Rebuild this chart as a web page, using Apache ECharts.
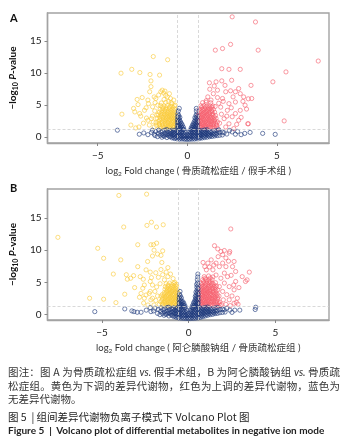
<!DOCTYPE html>
<html>
<head>
<meta charset="utf-8">
<script src="https://cdn.jsdelivr.net/npm/echarts@6/dist/echarts.min.js"></script>
<style>
html,body{margin:0;padding:0;background:#fff;}
#app{position:relative;width:349px;height:448px;overflow:hidden;}
#chart{position:absolute;left:0;top:0;width:349px;height:448px;}
.cap{position:absolute;left:8px;top:365px;width:332px;font-family:"Noto Sans CJK SC",sans-serif;font-size:10.5px;color:#333;}
.cap div{line-height:13.5px;height:13.5px;white-space:nowrap;}
.cap .j{text-align:justify;text-align-last:justify;}
.cap i{font-family:Lato,"Noto Sans CJK SC";}
.cap .t4{margin-top:4.5px;color:#222;}
.cap .t5{font-family:Lato,sans-serif;font-weight:bold;font-size:10px;color:#222;}
</style>
</head>
<body>
<div id="app">
  <div id="chart"></div>
  <div class="cap">
    <div class="j">图注：图 A 为骨质疏松症组 <i>vs.</i> 假手术组，B 为阿仑膦酸钠组 <i>vs.</i> 骨质疏</div>
    <div class="j">松症组。黄色为下调的差异代谢物，红色为上调的差异代谢物，蓝色为</div>
    <div>无差异代谢物。</div>
    <div class="t4">图 5 &nbsp;|&nbsp;组间差异代谢物负离子模式下 Volcano Plot 图</div>
    <div class="t5">Figure 5 &nbsp;| &nbsp;Volcano plot of differential metabolites in negative ion mode</div>
  </div>
</div>
<script>
// 阈值: log2(1.5), -log10(0.05)
var fcCut = 0.58;
var pCut = 1.3;
var xTicks = [-5, 0, 5];
var yTicks = [0, 5, 10, 15];

// 图A 骨质疏松症组 / 假手术组  [log2FC, -log10P]
var aDown = [
  [-3.7,10.0],[-3.65,3.6],[-3.1,10.6],[-2.65,10.1],[-2.88,1.45],[-1.9,12.6],[-1.1,12.1],
  [-2.08,9.8],[-1.55,9.7],[-2.03,8.8],[-2.03,7.9],[-2.1,7.1],[-2.52,6.2],[-2.8,5.9],
  [-2.75,5.1],[-3.0,4.5],[-2.93,3.95],[-2.66,3.7],[-2.39,4.2],[-2.2,5.8],[-1.85,6.3],
  [-1.4,7.35],[-0.76,5.8],[-0.67,5.0],[-2.2,2.65],[-2.12,1.9],[-2.17,5.25],[-1.94,4.75],
  [-1.76,6.05],[-1.7,3.45],[-1.85,1.6],[-1.58,1.9],[-1.48,7.1],[-1.21,6.55],[-1.12,6.3],
  [-0.94,6.05],[-2.6,3.3],[-2.45,2.2],[-2.28,3.0],[-1.9,2.4],[-1.8,5.4],[-1.65,5.0],
  [-1.6,6.6],[-1.32,6.9],[-1.3,5.9],[-1.05,5.6],[-0.85,5.2],[-2.3,4.6],[-3.15,1.9],[-2.7,1.6],
  [-1.95,3.3],[-1.82,4.1],[-2.0,2.9],[-1.75,2.3],[-1.25,7.2],[-1.0,6.8],
  [-0.62,1.42],[-0.75,1.5],[-0.88,1.4],[-1.0,1.47],[-1.15,1.38],[-1.3,1.52],[-1.48,1.44],
  [-0.65,1.92],[-0.8,1.86],[-0.93,1.95],[-1.08,1.88],[-1.22,1.96],[-1.38,1.9],[-1.55,2.0],[-1.72,1.85],
  [-0.63,2.38],[-0.74,2.45],[-0.86,2.36],[-1.0,2.42],[-1.12,2.35],[-1.27,2.47],[-1.42,2.4],[-1.6,2.5],
  [-0.66,2.92],[-0.78,2.86],[-0.9,2.95],[-1.04,2.88],[-1.18,2.94],[-1.33,2.85],[-1.5,2.92],[-1.68,2.98],
  [-0.64,3.38],[-0.76,3.45],[-0.89,3.36],[-1.01,3.42],[-1.14,3.35],[-1.28,3.46],[-1.45,3.4],[-1.62,3.5],
  [-0.68,3.9],[-0.82,3.86],[-0.96,3.95],[-1.1,3.88],[-1.25,3.94],[-1.4,3.85],[-1.56,3.92],
  [-0.7,4.4],[-0.85,4.36],[-1.0,4.45],[-1.17,4.38],[-1.35,4.46],[-1.52,4.35],
  [-0.72,4.9],[-0.92,4.85],[-1.12,4.94],[-1.3,4.88],[-1.5,4.95],
  [-0.9,5.4],[-1.2,5.45],[-1.45,5.35],
  [-0.69,1.66],[-0.82,1.62],[-0.95,1.7],[-1.08,1.64],[-1.22,1.68],[-1.36,1.62],[-1.52,1.7],
  [-0.7,2.14],[-0.84,2.2],[-0.97,2.12],[-1.1,2.18],[-1.25,2.14],[-1.4,2.2],[-1.58,2.16],
  [-0.68,2.66],[-0.81,2.62],[-0.94,2.7],[-1.07,2.64],[-1.21,2.68],[-1.37,2.62],[-1.54,2.7],
  [-0.71,3.16],[-0.84,3.12],[-0.97,3.2],[-1.09,3.14],[-1.23,3.18],[-1.38,3.12],[-1.55,3.2],
  [-0.72,3.66],[-0.86,3.62],[-1.0,3.7],[-1.15,3.64],[-1.3,3.68],[-1.47,3.64],
  [-0.76,4.15],[-0.92,4.2],[-1.08,4.12],[-1.25,4.18],[-1.42,4.14],
  [-0.8,4.65],[-1.0,4.68],[-1.2,4.62],[-1.4,4.7]
];
var aUp = [
  [2.5,18.8],[3.8,18.0],[1.56,13.6],[1.96,13.85],[2.41,14.5],[3.95,13.6],[1.92,10.7],[2.32,10.6],[2.95,10.6],
  [7.3,11.9],[5.5,10.2],[4.77,8.65],[3.55,8.1],[5.4,2.55],[3.37,2.1],[3.4,6.0],
  [1.23,8.5],[1.6,8.65],[1.5,8.0],[1.68,7.35],[1.92,8.8],[2.47,8.9],[2.14,7.1],[2.41,7.25],[2.68,7.1],[2.95,6.8],[2.86,7.6],
  [3.59,6.05],[3.22,5.0],[2.95,4.2],[2.68,3.7],[2.5,3.2],[3.4,2.1],[2.86,2.65],[2.32,2.1],[2.05,2.9],[2.23,4.2],
  [1.86,4.7],[1.96,6.05],[1.68,6.2],[1.45,6.8],[1.32,5.8],[1.14,6.3],[2.68,5.5],[3.14,6.3],[2.32,5.25],[2.14,1.6],[2.59,1.35],
  [1.75,5.3],[1.9,3.6],[2.0,5.6],[2.2,3.3],[2.45,4.6],[2.75,2.0],[3.0,3.1],[3.1,5.6],[1.8,2.2],[2.55,6.3],[1.55,4.8],
  [1.25,7.5],[1.05,5.7],[3.3,4.4],[2.1,8.1],
  [0.62,1.42],[0.74,1.5],[0.86,1.38],[0.98,1.46],[1.1,1.4],[1.24,1.52],[1.38,1.44],[1.52,1.48],[1.7,1.4],
  [0.64,1.92],[0.77,1.86],[0.9,1.95],[1.03,1.88],[1.17,1.96],[1.31,1.9],[1.46,1.98],[1.62,1.87],
  [0.6,2.4],[0.72,2.46],[0.84,2.36],[0.97,2.44],[1.1,2.37],[1.23,2.46],[1.37,2.4],[1.52,2.48],[1.68,2.38],
  [0.63,2.9],[0.76,2.96],[0.89,2.86],[1.02,2.94],[1.15,2.88],[1.29,2.95],[1.44,2.87],[1.6,2.93],
  [0.61,3.4],[0.73,3.36],[0.86,3.45],[0.99,3.38],[1.12,3.44],[1.26,3.36],[1.41,3.46],[1.57,3.4],
  [0.66,3.9],[0.8,3.95],[0.94,3.86],[1.08,3.93],[1.22,3.88],[1.37,3.96],[1.52,3.9],
  [0.68,4.4],[0.83,4.36],[0.98,4.45],[1.13,4.38],[1.28,4.44],[1.45,4.36],
  [0.75,4.9],[0.92,4.95],[1.08,4.86],[1.25,4.93],[1.42,4.88],
  [0.85,5.4],[1.05,5.46],[1.3,5.38],
  [0.69,1.66],[0.81,1.62],[0.93,1.7],[1.05,1.64],[1.18,1.68],[1.32,1.62],[1.46,1.7],[1.62,1.64],
  [0.66,2.16],[0.79,2.12],[0.92,2.2],[1.05,2.14],[1.18,2.18],[1.32,2.12],[1.46,2.2],[1.6,2.15],
  [0.7,2.66],[0.82,2.62],[0.95,2.7],[1.08,2.64],[1.22,2.68],[1.36,2.62],[1.52,2.7],
  [0.67,3.16],[0.8,3.12],[0.93,3.2],[1.06,3.14],[1.19,3.18],[1.34,3.12],[1.5,3.18],
  [0.7,3.66],[0.84,3.62],[0.97,3.7],[1.11,3.64],[1.25,3.68],[1.41,3.64],
  [0.74,4.15],[0.9,4.2],[1.05,4.12],[1.2,4.18],[1.36,4.14],
  [0.8,4.65],[1.0,4.68],[1.18,4.62],[1.35,4.7]
];
var aNs = [
  [-3.9,1.1],[-2.68,0.47],[-2.43,0.67],[-2.2,0.4],[-2.0,0.75],[-1.85,0.47],[-1.95,1.1],
  [1.96,0.8],[2.2,0.5],[2.5,0.83],[2.68,0.47],[3.0,0.4],[3.2,0.6],[3.5,0.75],[4.2,0.6],[4.9,0.45],[2.35,1.05],[2.8,0.9],[1.75,1.15],
  [-1.8,0.25],[-1.76,0.9],[-1.66,0.1],[-1.62,0.6],[-1.6,1.1],[-1.52,0.3],[-1.48,0.8],
  [-1.42,0.0],[-1.4,0.45],[-1.38,0.95],[-1.28,0.15],[-1.26,0.6],[-1.25,1.1],
  [-1.14,-0.05],[-1.13,0.4],[-1.12,0.8],[-1.15,1.2],[-1.0,0.1],[-1.0,0.55],[-0.99,0.95],
  [-0.86,-0.1],[-0.86,0.3],[-0.85,0.7],[-0.87,1.1],[-0.72,-0.2],[-0.72,0.2],[-0.71,0.6],[-0.72,1.0],
  [-0.58,-0.25],[-0.58,0.15],[-0.57,0.55],[-0.58,0.95],[-0.44,-0.3],[-0.44,0.1],[-0.43,0.5],[-0.44,0.9],
  [-0.3,-0.28],[-0.3,0.12],[-0.29,0.5],[-0.3,0.85],[-0.16,-0.32],[-0.16,0.08],[-0.15,0.45],
  [-0.02,-0.35],[-0.02,0.05],[-0.01,0.4],[0.12,-0.33],[0.12,0.07],[0.13,0.45],
  [0.26,-0.3],[0.26,0.1],[0.27,0.5],[0.26,0.85],[0.4,-0.28],[0.4,0.12],[0.41,0.52],[0.4,0.9],
  [0.54,-0.25],[0.54,0.15],[0.55,0.55],[0.54,0.95],[0.68,-0.2],[0.68,0.2],[0.69,0.6],[0.68,1.0],
  [0.82,-0.12],[0.82,0.28],[0.83,0.68],[0.82,1.08],[0.96,-0.05],[0.96,0.35],[0.97,0.75],[0.96,1.15],
  [1.1,0.0],[1.1,0.4],[1.11,0.8],[1.1,1.18],[1.24,0.08],[1.24,0.48],[1.25,0.88],
  [1.38,0.12],[1.38,0.52],[1.39,0.92],[1.52,0.2],[1.52,0.6],[1.53,1.0],
  [1.66,0.25],[1.66,0.65],[1.67,1.05],[1.8,0.3],[1.8,0.75],[1.95,0.35],[2.05,0.7],
  [-0.55,1.4],[-0.55,1.85],[-0.55,2.3],[-0.55,2.75],[-0.54,3.2],[-0.53,3.65],[-0.5,4.1],[-0.45,4.5],
  [-0.45,1.3],[-0.45,1.75],[-0.44,2.2],[-0.43,2.65],[-0.42,3.1],[-0.35,1.25],[-0.34,1.7],[-0.33,2.15],
  [-0.24,1.2],[-0.22,1.55],[-0.12,0.8],[0.08,0.85],
  [0.55,1.4],[0.55,1.85],[0.55,2.3],[0.55,2.75],[0.54,3.2],[0.53,3.65],[0.5,4.1],[0.5,4.5],
  [0.45,1.3],[0.45,1.75],[0.44,2.2],[0.43,2.65],[0.42,3.05],[0.35,1.25],[0.34,1.7],[0.33,2.1],
  [0.24,1.2],[0.22,1.5],[0.16,0.85],
  [-1.35,0.25],[-1.21,0.4],[-1.07,0.3],[-0.93,0.15],[-0.93,0.55],[-0.93,0.9],[-0.79,0.0],[-0.79,0.4],[-0.79,0.8],
  [-0.65,-0.05],[-0.65,0.35],[-0.65,0.75],[-0.65,1.15],[-0.51,-0.1],[-0.51,0.3],[-0.51,0.7],[-0.51,1.1],
  [-0.37,-0.12],[-0.37,0.3],[-0.37,0.7],[-0.23,-0.15],[-0.23,0.25],[-0.23,0.65],[-0.09,-0.18],[-0.09,0.22],
  [0.05,-0.18],[0.05,0.2],[0.19,-0.15],[0.19,0.25],[0.19,0.65],[0.33,-0.12],[0.33,0.3],[0.33,0.7],
  [0.47,-0.1],[0.47,0.3],[0.47,0.7],[0.47,1.1],[0.61,-0.05],[0.61,0.35],[0.61,0.75],[0.61,1.15],
  [0.75,0.0],[0.75,0.4],[0.75,0.8],[0.89,0.1],[0.89,0.5],[0.89,0.9],[1.03,0.2],[1.03,0.6],[1.03,0.98],
  [1.17,0.25],[1.17,0.62],[1.31,0.3],[1.31,0.72],[1.45,0.38],[1.6,0.45],
  [-0.5,1.6],[-0.5,2.05],[-0.49,2.5],[-0.48,2.95],[-0.48,3.4],[-0.4,1.5],[-0.39,1.95],[-0.38,2.4],[-0.29,1.45],[-0.28,1.9],[-0.19,1.2],
  [0.5,1.6],[0.5,2.05],[0.49,2.5],[0.48,2.95],[0.48,3.4],[0.4,1.5],[0.39,1.95],[0.38,2.4],[0.29,1.45],[0.28,1.85],[0.19,1.2]
];

// 图B 阿仑膦酸钠组 / 骨质疏松症组
var bDown = [
  [-7.55,12.0],[-4.03,18.5],[-2.43,18.7],[-3.75,13.6],[-5.25,10.3],[-4.91,8.75],[-3.92,8.5],[-2.41,13.85],
  [-2.15,14.35],[-1.86,13.6],[-1.47,13.95],[-2.94,10.85],[-2.18,10.85],[-2.03,10.85],[-1.85,11.1],[-2.09,9.1],
  [-2.37,8.25],[-1.6,9.2],[-1.5,9.9],[-1.8,9.4],[-2.0,10.0],
  [-4.35,6.3],[-3.6,6.2],[-3.54,5.5],[-3.35,5.65],[-3.18,6.05],[-2.94,7.45],[-2.8,5.9],[-2.62,5.5],[-2.56,4.6],
  [-2.65,4.1],[-2.75,3.3],[-2.46,3.05],[-2.56,2.55],[-2.84,2.7],[-3.12,4.2],[-3.69,3.17],[-4.2,1.87],[-4.91,2.4],[-5.72,2.55],
  [-2.46,6.95],[-2.22,6.6],[-2.15,5.75],[-2.22,5.15],[-2.09,4.6],[-2.22,3.6],[-2.09,2.55],[-2.18,2.3],[-2.28,3.3],
  [-1.9,6.5],[-1.75,5.8],[-1.6,7.0],[-1.5,6.2],[-1.4,5.4],[-1.3,6.6],[-1.2,5.9],[-1.05,6.3],[-0.9,5.6],[-0.8,5.0],
  [-0.7,4.7],[-1.65,4.8],[-1.85,4.3],[-1.95,3.6],[-1.8,2.9],[-1.9,2.2],[-1.7,1.6],[-2.0,1.5],[-1.55,8.1],[-1.2,7.3],
  [-2.6,1.8],[-2.35,1.5],
  [-0.62,1.44],[-0.74,1.38],[-0.86,1.5],[-0.98,1.42],[-1.1,1.48],[-1.24,1.4],[-1.38,1.5],[-1.52,1.45],
  [-0.64,1.9],[-0.77,1.96],[-0.9,1.86],[-1.03,1.94],[-1.17,1.88],[-1.31,1.96],[-1.46,1.9],[-1.62,1.98],
  [-0.6,2.4],[-0.72,2.35],[-0.84,2.46],[-0.97,2.38],[-1.1,2.44],[-1.23,2.36],[-1.37,2.45],[-1.52,2.4],
  [-0.63,2.9],[-0.76,2.86],[-0.89,2.95],[-1.02,2.88],[-1.15,2.94],[-1.29,2.86],[-1.44,2.92],[-1.6,2.88],
  [-0.61,3.38],[-0.73,3.45],[-0.86,3.36],[-0.99,3.44],[-1.12,3.38],[-1.26,3.46],[-1.41,3.4],
  [-0.66,3.88],[-0.8,3.94],[-0.94,3.86],[-1.08,3.92],[-1.22,3.86],[-1.37,3.94],
  [-0.7,4.38],[-0.86,4.44],[-1.02,4.36],[-1.18,4.42],[-1.35,4.35],
  [-0.85,4.85],[-1.1,4.9],[-1.3,4.8],
  [-0.68,1.64],[-0.8,1.7],[-0.93,1.62],[-1.06,1.68],[-1.2,1.64],[-1.34,1.7],[-1.5,1.66],
  [-0.7,2.16],[-0.83,2.12],[-0.96,2.2],[-1.09,2.14],[-1.23,2.18],[-1.38,2.12],[-1.55,2.18],
  [-0.67,2.66],[-0.8,2.7],[-0.93,2.62],[-1.06,2.68],[-1.2,2.64],[-1.35,2.7],[-1.5,2.64],
  [-0.69,3.14],[-0.82,3.18],[-0.95,3.12],[-1.08,3.2],[-1.22,3.14],[-1.37,3.18],[-1.52,3.12],
  [-0.7,3.64],[-0.84,3.68],[-0.98,3.62],[-1.13,3.7],[-1.28,3.64],
  [-0.76,4.14],[-0.92,4.18],[-1.08,4.12],[-1.25,4.16],
  [-0.78,4.62],[-0.98,4.66],[-1.18,4.6]
];
var bUp = [
  [2.43,13.3],[1.49,10.7],[1.68,10.2],[1.86,9.8],[1.96,9.3],[2.06,9.95],[2.34,9.55],[2.15,8.8],[1.3,8.5],[1.11,8.0],
  [1.02,6.95],[2.37,9.8],[2.62,8.25],[2.53,7.45],[2.71,6.7],[3.5,6.6],[3.09,5.9],[3.28,5.15],[3.37,5.4],[2.71,5.15],
  [2.62,3.85],[2.81,2.55],[2.62,1.77],[2.85,1.62],[2.34,2.3],[2.34,4.35],[2.24,5.9],[2.06,6.45],[1.77,7.45],[1.58,8.0],
  [1.96,8.0],[2.15,7.45],[1.4,6.95],[1.58,6.15],[1.86,5.65],[2.06,4.9],[1.77,4.35],[1.96,3.6],[0.83,8.1],[0.93,7.45],
  [2.45,6.1],[2.2,3.1],[2.5,2.9],[2.0,2.3],[2.15,1.6],[2.4,1.4],[1.9,1.55],[2.6,4.6],[2.9,4.2],[1.7,9.0],
  [1.2,7.4],[1.45,7.7],[2.3,8.3],[2.75,1.9],
  [0.62,1.42],[0.74,1.5],[0.86,1.38],[0.98,1.46],[1.1,1.4],[1.24,1.5],[1.38,1.42],[1.52,1.48],[1.68,1.4],[1.82,1.45],
  [0.64,1.92],[0.77,1.86],[0.9,1.95],[1.03,1.88],[1.17,1.96],[1.31,1.9],[1.46,1.98],[1.62,1.87],[1.76,1.95],
  [0.6,2.4],[0.72,2.46],[0.84,2.36],[0.97,2.44],[1.1,2.37],[1.23,2.46],[1.37,2.4],[1.52,2.48],[1.68,2.38],
  [0.63,2.9],[0.76,2.96],[0.89,2.86],[1.02,2.94],[1.15,2.88],[1.29,2.95],[1.44,2.87],[1.6,2.93],[1.75,2.88],
  [0.61,3.4],[0.73,3.36],[0.86,3.45],[0.99,3.38],[1.12,3.44],[1.26,3.36],[1.41,3.46],[1.57,3.4],
  [0.66,3.9],[0.8,3.95],[0.94,3.86],[1.08,3.93],[1.22,3.88],[1.37,3.96],[1.52,3.9],[1.68,3.85],
  [0.68,4.4],[0.83,4.36],[0.98,4.45],[1.13,4.38],[1.28,4.44],[1.45,4.36],[1.6,4.45],
  [0.72,4.9],[0.88,4.95],[1.04,4.86],[1.2,4.93],[1.37,4.88],[1.55,4.95],
  [0.8,5.4],[0.98,5.46],[1.16,5.38],[1.35,5.45],
  [0.9,5.9],[1.15,6.0],[1.4,5.85],
  [0.69,1.66],[0.81,1.62],[0.93,1.7],[1.05,1.64],[1.18,1.68],[1.32,1.62],[1.46,1.7],[1.62,1.64],[1.76,1.68],
  [0.66,2.16],[0.79,2.12],[0.92,2.2],[1.05,2.14],[1.18,2.18],[1.32,2.12],[1.46,2.2],[1.6,2.15],
  [0.7,2.66],[0.82,2.62],[0.95,2.7],[1.08,2.64],[1.22,2.68],[1.36,2.62],[1.52,2.7],[1.68,2.64],
  [0.67,3.16],[0.8,3.12],[0.93,3.2],[1.06,3.14],[1.19,3.18],[1.34,3.12],[1.5,3.18],[1.65,3.14],
  [0.7,3.66],[0.84,3.62],[0.97,3.7],[1.11,3.64],[1.25,3.68],[1.41,3.64],[1.58,3.68],
  [0.74,4.15],[0.9,4.2],[1.05,4.12],[1.2,4.18],[1.36,4.14],[1.52,4.2],
  [0.78,4.65],[0.96,4.68],[1.12,4.62],[1.3,4.7],[1.46,4.64],
  [0.85,5.15],[1.05,5.2],[1.25,5.12],[0.95,5.65],[1.25,5.7]
];
var bNs = [
  [-5.42,0.47],[-3.69,0.89],[-3.28,0.58],[-3.16,0.47],[-2.97,0.37],[-2.75,0.37],[-2.22,1.09],[-2.18,0.47],[-2.03,0.58],
  [-2.45,0.7],[-1.95,1.0],[2.38,0.7],[2.66,0.7],[2.95,0.7],[3.84,0.8],[3.87,1.15],[2.1,0.4],[2.5,0.35],[2.2,1.0],[1.95,0.85],
  [-1.8,0.2],[-1.75,0.8],[-1.66,0.0],[-1.62,0.5],[-1.6,1.05],[-1.52,0.2],[-1.48,0.75],
  [-1.42,-0.1],[-1.4,0.4],[-1.38,0.9],[-1.28,0.05],[-1.26,0.55],[-1.25,1.1],
  [-1.14,-0.2],[-1.13,0.3],[-1.12,0.75],[-1.15,1.15],[-1.0,-0.05],[-1.0,0.45],[-0.99,0.92],
  [-0.86,-0.3],[-0.86,0.15],[-0.85,0.6],[-0.87,1.05],[-0.72,-0.4],[-0.72,0.05],[-0.71,0.5],[-0.72,0.95],
  [-0.58,-0.5],[-0.58,-0.05],[-0.57,0.4],[-0.58,0.85],[-0.44,-0.55],[-0.44,-0.1],[-0.43,0.35],[-0.44,0.8],
  [-0.3,-0.58],[-0.3,-0.12],[-0.29,0.32],[-0.3,0.75],[-0.16,-0.6],[-0.16,-0.15],[-0.15,0.3],
  [-0.02,-0.62],[-0.02,-0.17],[-0.01,0.25],[0.12,-0.6],[0.12,-0.15],[0.13,0.3],
  [0.26,-0.58],[0.26,-0.12],[0.27,0.32],[0.26,0.75],[0.4,-0.55],[0.4,-0.1],[0.41,0.35],[0.4,0.8],
  [0.54,-0.5],[0.54,-0.05],[0.55,0.4],[0.54,0.85],[0.68,-0.42],[0.68,0.03],[0.69,0.48],[0.68,0.93],
  [0.82,-0.32],[0.82,0.13],[0.83,0.58],[0.82,1.03],[0.96,-0.2],[0.96,0.25],[0.97,0.7],[0.96,1.12],
  [1.1,-0.1],[1.1,0.35],[1.11,0.8],[1.1,1.18],[1.24,0.0],[1.24,0.45],[1.25,0.9],
  [1.38,0.05],[1.38,0.5],[1.39,0.95],[1.52,0.15],[1.52,0.6],[1.53,1.05],
  [1.66,0.2],[1.66,0.65],[1.67,1.1],[1.8,0.3],[1.8,0.8],[1.95,0.35],[2.05,0.75],
  [-0.55,1.35],[-0.55,1.8],[-0.55,2.25],[-0.54,2.7],[-0.53,3.15],[-0.5,3.6],
  [-0.45,1.25],[-0.44,1.7],[-0.43,2.15],[-0.42,2.6],[-0.35,1.15],[-0.34,1.6],[-0.33,2.0],
  [-0.24,1.05],[-0.22,1.4],[-0.12,0.65],[0.08,0.7],
  [0.55,1.35],[0.55,1.8],[0.55,2.25],[0.55,2.7],[0.55,3.15],[0.54,3.6],[0.54,4.05],[0.53,4.5],[0.52,4.95],
  [0.5,5.4],[0.52,5.85],[0.53,6.3],
  [0.45,1.25],[0.45,1.7],[0.44,2.15],[0.43,2.6],[0.42,3.05],[0.42,3.5],[0.35,1.15],[0.34,1.6],[0.33,2.05],
  [0.24,1.05],[0.22,1.4],[0.16,0.7],
  [-1.35,0.1],[-1.21,0.25],[-1.07,0.15],[-0.93,-0.1],[-0.93,0.35],[-0.93,0.8],[-0.79,-0.2],[-0.79,0.25],[-0.79,0.7],
  [-0.65,-0.25],[-0.65,0.2],[-0.65,0.65],[-0.65,1.1],[-0.51,-0.3],[-0.51,0.15],[-0.51,0.6],[-0.51,1.05],
  [-0.37,-0.35],[-0.37,0.1],[-0.37,0.55],[-0.23,-0.38],[-0.23,0.05],[-0.23,0.5],[-0.09,-0.4],[-0.09,0.02],
  [0.05,-0.4],[0.05,0.0],[0.19,-0.38],[0.19,0.05],[0.19,0.5],[0.33,-0.35],[0.33,0.1],[0.33,0.55],
  [0.47,-0.3],[0.47,0.15],[0.47,0.6],[0.47,1.05],[0.61,-0.25],[0.61,0.2],[0.61,0.65],[0.61,1.1],
  [0.75,-0.18],[0.75,0.28],[0.75,0.72],[0.89,-0.05],[0.89,0.4],[0.89,0.85],[1.03,0.05],[1.03,0.5],[1.03,0.95],
  [1.17,0.15],[1.17,0.6],[1.31,0.25],[1.31,0.7],[1.45,0.32],[1.6,0.42],
  [-0.5,1.55],[-0.5,2.0],[-0.49,2.45],[-0.48,2.9],[-0.4,1.45],[-0.39,1.9],[-0.29,1.35],[-0.28,1.75],[-0.19,1.1],
  [0.5,1.55],[0.5,2.0],[0.49,2.45],[0.49,2.9],[0.48,3.35],[0.48,3.8],[0.47,4.25],[0.46,4.7],
  [0.4,1.45],[0.39,1.9],[0.38,2.35],[0.38,2.8],[0.29,1.35],[0.28,1.8],[0.19,1.1]
];

var colDown = '#FBCB3C', colUp = '#F5606E', colNs = '#1F3A7C';
var fontLatin = 'Lato, "Noto Sans CJK SC", sans-serif';

function ringSeries(idx, data, color, withLines){
  var s = {
    type: 'scatter',
    xAxisIndex: idx, yAxisIndex: idx,
    symbol: 'circle', symbolSize: 4.2,
    itemStyle: {color: 'rgba(255,255,255,0)', borderColor: color, borderWidth: 0.8},
    silent: true, animation: false,
    data: data
  };
  if(withLines){
    s.markLine = {
      silent: true, symbol: ['none','none'], label: {show:false},
      lineStyle: {type: [3,2], color: '#cfcfcf', width: 0.8},
      data: [{xAxis: -fcCut}, {xAxis: fcCut}, {yAxis: pCut}]
    };
  }
  return s;
}

function xAx(idx, min, max, title){
  return {
    gridIndex: idx, type: 'value', min: min, max: max,
    axisLine: {show: true, onZero: false, lineStyle: {color: '#a3a3a3', width: 1.4}},
    axisTick: {show: true, length: 3, customValues: xTicks, lineStyle: {color: '#888'}},
    axisLabel: {customValues: xTicks, margin: 8, fontSize: 10, color: '#222', fontFamily: fontLatin,
      formatter: function(v){ return v < 0 ? '\u2212' + Math.abs(v) : '' + v; }},
    splitLine: {show: false},
    name: '{a|log}{s|2}{a| Fold change ( ' + title + ' )}',
    nameLocation: 'middle', nameGap: 22,
    nameTextStyle: {padding: [0,0,0,20], rich: {
      a: {fontSize: 9.5, color: '#333', fontFamily: fontLatin, lineHeight: 12},
      s: {fontSize: 6.5, color: '#333', fontFamily: fontLatin, lineHeight: 12, verticalAlign: 'bottom', padding: [4,0,0,0]}
    }}
  };
}

function yAx(idx, min, max){
  return {
    gridIndex: idx, type: 'value', min: min, max: max,
    axisLine: {show: true, onZero: false, lineStyle: {color: '#a3a3a3', width: 1.4}},
    axisTick: {show: true, length: 3, customValues: yTicks, lineStyle: {color: '#888'}},
    axisLabel: {customValues: yTicks, margin: 6, fontSize: 10, color: '#222', fontFamily: fontLatin},
    splitLine: {show: false},
    name: '{a|\u2212log}{s|10}{a| }{i|P}{a|-value}',
    nameLocation: 'middle', nameGap: 25,
    nameTextStyle: {rich: {
      a: {fontSize: 10, fontWeight: 'bold', color: '#111', fontFamily: fontLatin, lineHeight: 12},
      i: {fontSize: 10, fontWeight: 'bold', fontStyle: 'italic', color: '#111', fontFamily: fontLatin, lineHeight: 12},
      s: {fontSize: 7, fontWeight: 'bold', color: '#111', fontFamily: fontLatin, lineHeight: 12, verticalAlign: 'bottom', padding: [4,0,0,0]}
    }}
  };
}

var myChart = echarts.init(document.getElementById('chart'));
var option = {
  animation: false,
  grid: [
    {left: 41, top: 13, width: 288, height: 130, show: true, borderColor: '#a3a3a3', borderWidth: 1.4, backgroundColor: '#fff'},
    {left: 41, top: 189, width: 288, height: 131, show: true, borderColor: '#a3a3a3', borderWidth: 1.4, backgroundColor: '#fff'}
  ],
  xAxis: [
    xAx(0, -7.8, 7.9, '骨质疏松症组 / 假手术组'),
    xAx(1, -8.15, 8.1, '阿仑膦酸钠组 / 骨质疏松症组')
  ],
  yAxis: [yAx(0, -0.9, 19.4), yAx(1, -0.83, 19.5)],
  graphic: [
    {type: 'text', left: 10, top: 13, style: {text: 'A', font: 'bold 11px Lato, sans-serif', fill: '#111'}},
    {type: 'text', left: 10, top: 183, style: {text: 'B', font: 'bold 11px Lato, sans-serif', fill: '#111'}}
  ],
  series: [
    ringSeries(0, aDown, colDown, true),
    ringSeries(0, aUp, colUp, false),
    ringSeries(0, aNs, colNs, false),
    ringSeries(1, bDown, colDown, true),
    ringSeries(1, bUp, colUp, false),
    ringSeries(1, bNs, colNs, false)
  ]
};
myChart.setOption(option);
</script>
</body>
</html>
